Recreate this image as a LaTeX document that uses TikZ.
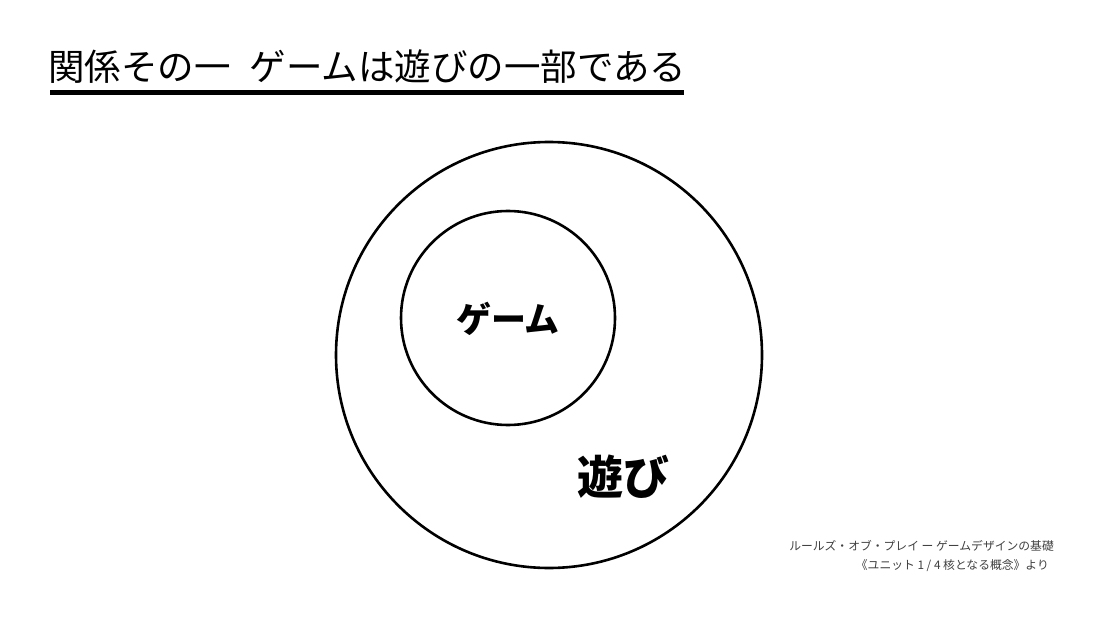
\documentclass[tikz,border=0pt]{standalone}
\usepackage{fontspec}
\setmainfont{Noto Sans CJK JP}
\newfontfamily\jpfont{Noto Sans CJK JP}
\begin{document}
\begin{tikzpicture}[x=1pt,y=-1pt,
  circ/.style={draw=black,line width=2.6pt},
  titletext/.style={font=\jpfont\fontsize{36.5}{40}\selectfont,anchor=west,inner sep=0pt},
  label/.style={font=\jpfont\bfseries\fontsize{35}{40}\selectfont,inner sep=0pt},
  biglabel/.style={font=\jpfont\bfseries\fontsize{46}{50}\selectfont,inner sep=0pt},
  caption/.style={font=\jpfont\fontsize{11.8}{14}\selectfont,text=black!75,anchor=east,inner sep=0pt}]
\useasboundingbox[fill=white] (0,0) rectangle (1102,620);
\node[titletext] (title) at (48,67) {関係その一\hspace{19pt}ゲームは遊びの一部である};
\coordinate (ulA) at (50,92.5);
\coordinate (ulB) at (684,92.5);
\draw[line width=4.5pt] (ulA) -- (ulB);
\node[circ,circle,minimum size=426pt,inner sep=0pt] (outer) at (549,355) {};
\node[circ,circle,minimum size=214pt,inner sep=0pt] (inner) at (508,318) {};
\node[label] (game) at (508,319) {ゲーム};
\node[biglabel] (play) at (623,477) {遊び};
\node[caption] (cap1) at (1054,546) {ルールズ・オブ・プレイ ー ゲームデザインの基礎};
\node[caption] (cap2) at (1049,566) {《ユニット 1 / 4 核となる概念》より};
\end{tikzpicture}
\end{document}
